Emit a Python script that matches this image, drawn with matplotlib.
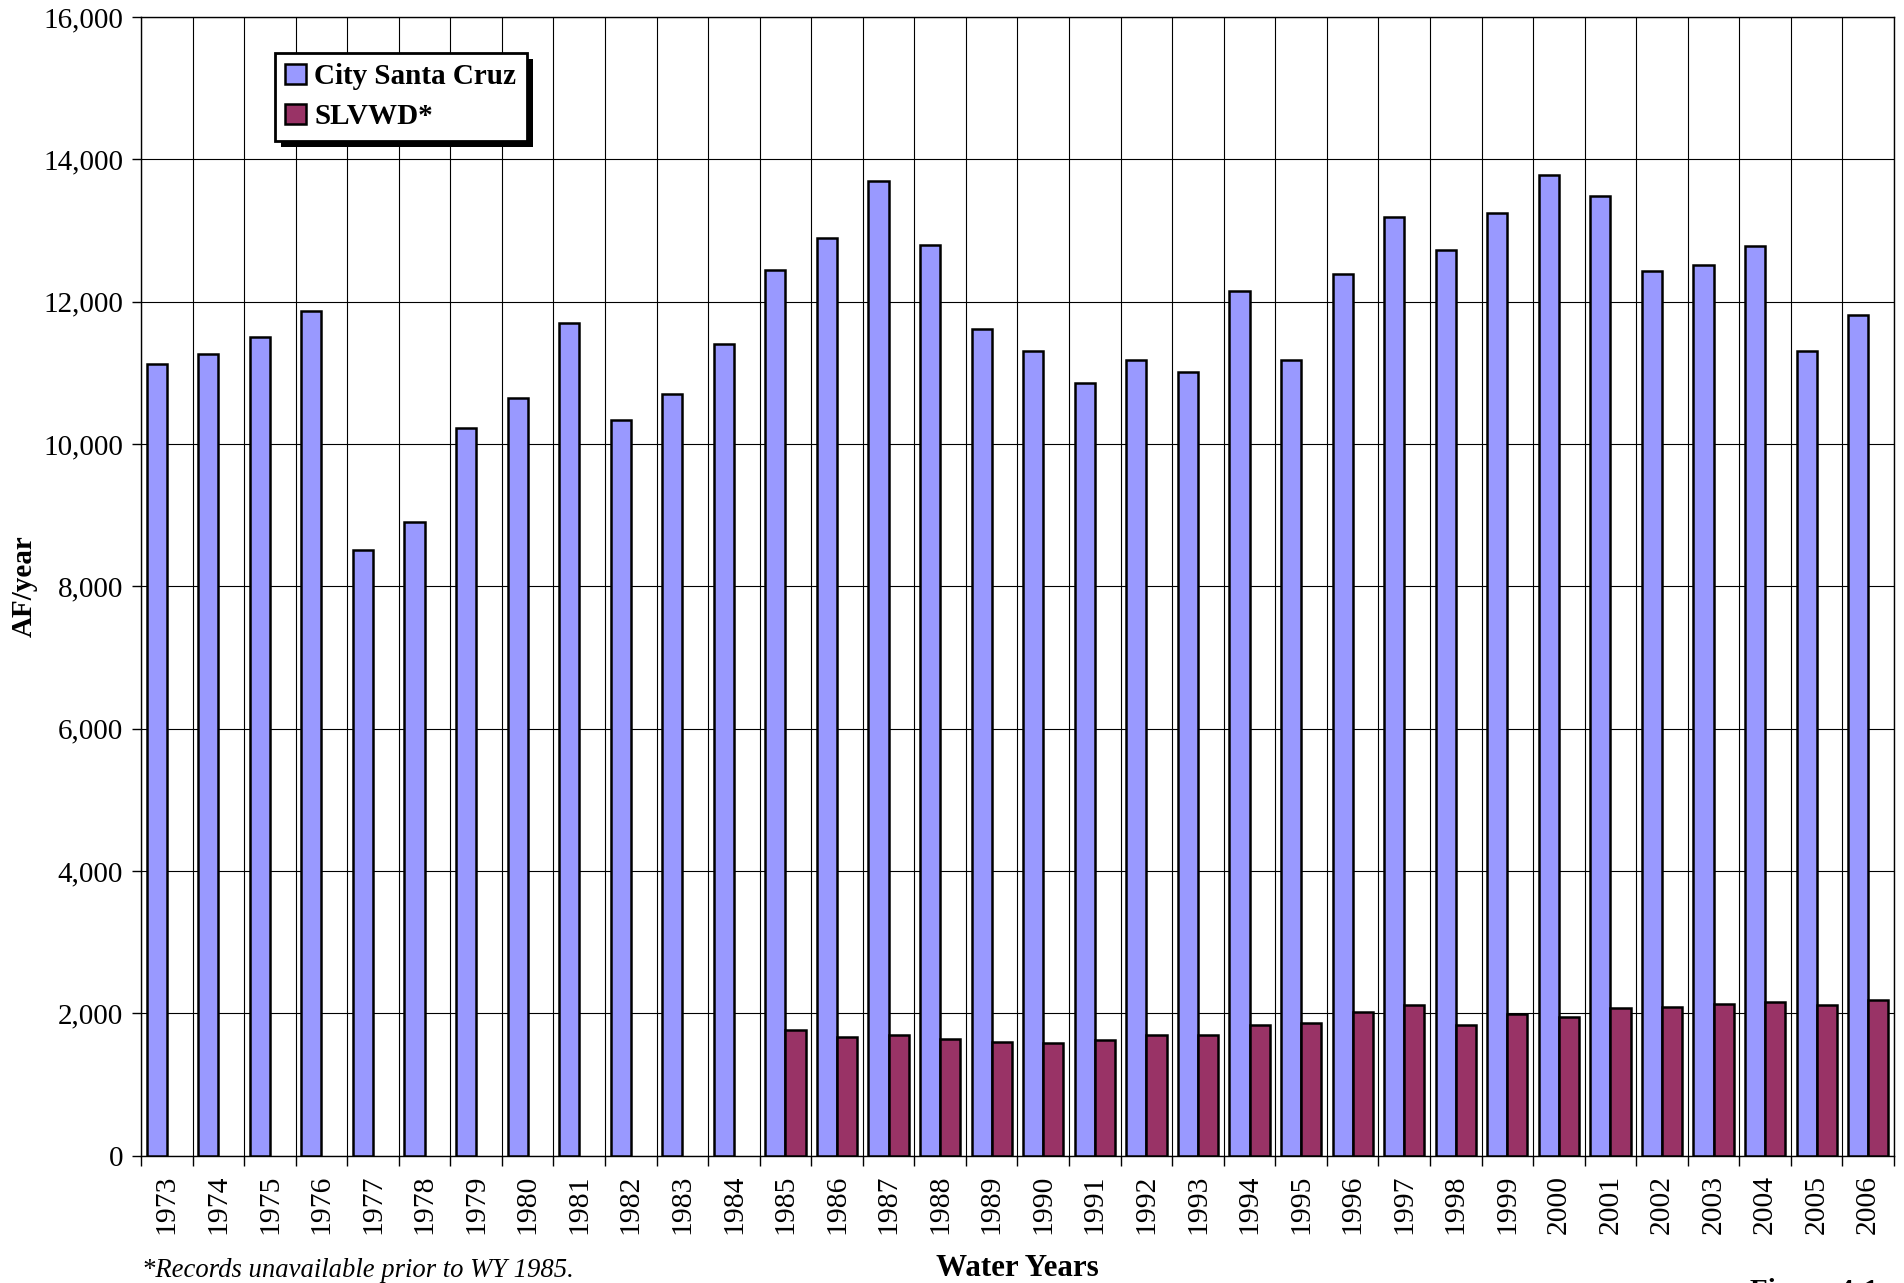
import numpy as np
import matplotlib.pyplot as plt
from matplotlib.patches import Rectangle
from matplotlib.ticker import FuncFormatter
from matplotlib.transforms import IdentityTransform

plt.rcParams['font.family'] = ['Liberation Serif', 'DejaVu Serif']

years = list(range(1973, 2007))
city = [11120, 11260, 11500, 11870, 8510, 8900, 10230, 10640, 11700, 10330, 10700, 11410,
        12440, 12900, 13690, 12800, 11615, 11305, 10860, 11180, 11010, 12145, 11180,
        12395, 13195, 12720, 13240, 13780, 13490, 12425, 12510, 12785, 11305, 11815]
slvwd_start = 1985
slvwd = [1770, 1660, 1700, 1640, 1590, 1580, 1630, 1690, 1700, 1830, 1860,
         2020, 2110, 1830, 1990, 1940, 2070, 2090, 2130, 2160, 2110, 2190]
labels = ["City Santa Cruz", "SLVWD*"]
colors = ["#9999FF", "#993366"]

W, H = 1904, 1283
fig = plt.figure(figsize=(W/100, H/100), dpi=100)
ax = fig.add_axes([141/W, 1-1155.5/H, (1894-141)/W, (1155.5-17)/H])

x = np.arange(len(years))
bw = 0.39
ax.bar(x - bw/2, city, width=bw, color=colors[0], edgecolor='black', linewidth=1.8,
       zorder=3, label=labels[0])
xs = x[years.index(slvwd_start):]
ax.bar(xs + bw/2, slvwd, width=bw, color=colors[1], edgecolor='black', linewidth=1.8,
       zorder=3, label=labels[1])

ax.set_xlim(-0.5, len(years) - 0.5)
ax.set_ylim(0, 16000)
ax.set_yticks(np.arange(0, 16001, 2000))
ax.yaxis.set_major_formatter(FuncFormatter(lambda v, p: f"{v:,.0f}"))

# tick marks on category boundaries, labels in the middle
ax.set_xticks(np.arange(-0.5, len(years)))
ax.set_xticklabels([])
ax.set_xticks(x, minor=True)
ax.set_xticklabels([str(y) for y in years], minor=True, rotation=90)
ax.tick_params(axis='x', which='minor', length=0, pad=14, labelsize=21.3)
ax.tick_params(axis='x', which='major', length=7, width=1, direction='out')
ax.tick_params(axis='y', length=6.5, width=1, pad=6.5, labelsize=21)

ax.set_axisbelow(True)
ax.grid(True, which='major', color='black', linewidth=0.8)
for s in ax.spines.values():
    s.set_color('black')
    s.set_linewidth(1)

h, l = ax.get_legend_handles_labels()
leg = fig.legend(h, l, loc='upper left', bbox_to_anchor=(275/W, 1-53/H),
                 frameon=True, fancybox=False, edgecolor='black', framealpha=1,
                 prop=dict(weight='bold', size=21), handlelength=0.7, handleheight=0.7,
                 handletextpad=0.3, borderpad=0.35, labelspacing=0.45, borderaxespad=0)
leg.get_frame().set_linewidth(2)
leg.set_zorder(5)

fig.text(24/W, 1-586/H, "AF/year", rotation=90, weight='bold', fontsize=21,
         ha='center', va='center')
fig.text(1017/W, 1-1276/H, "Water Years", weight='bold', fontsize=22.3,
         ha='center', va='baseline')
fig.text(142/W, 1-1277/H, "*Records unavailable prior to WY 1985.", style='italic',
         fontsize=19.2, ha='left', va='baseline')
fig.text(1750/W, 1-1299/H, "Figure 4-1", weight='bold', fontsize=21,
         ha='left', va='baseline')

# drop shadow behind legend box
fig.canvas.draw()
bb = leg.get_frame().get_window_extent()
fig.add_artist(Rectangle((bb.x0 + 6, bb.y0 - 6), bb.width, bb.height,
                         transform=IdentityTransform(), facecolor='black',
                         edgecolor='none', zorder=4))

fig.savefig('out.png', dpi=100)
